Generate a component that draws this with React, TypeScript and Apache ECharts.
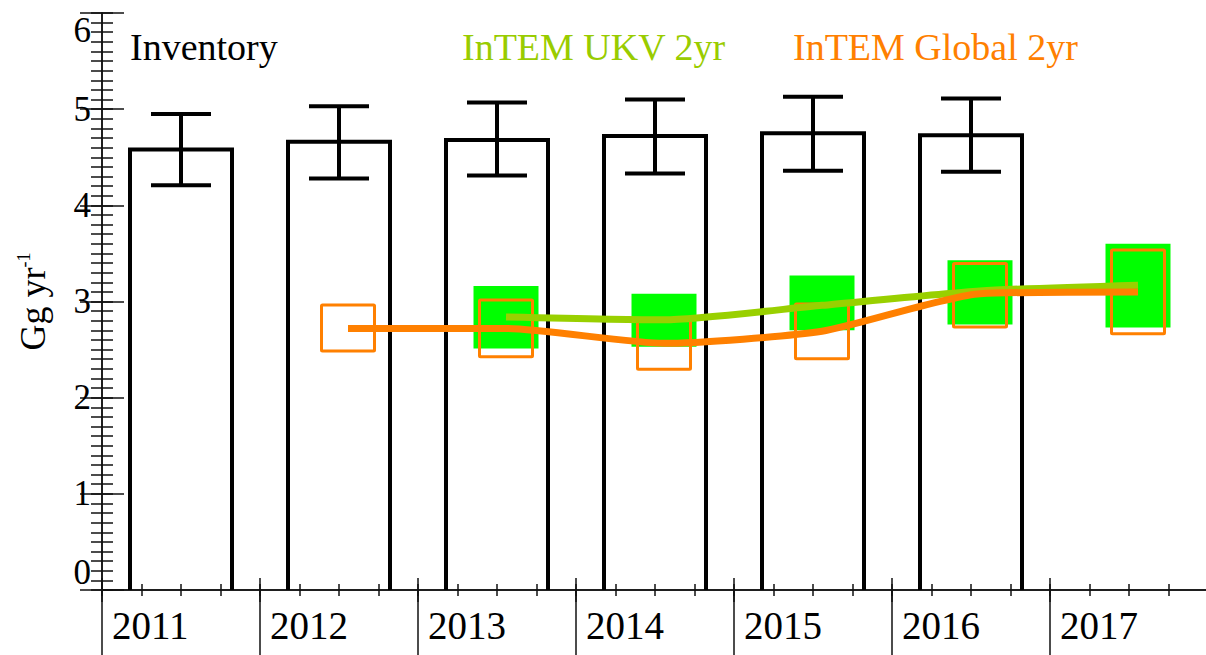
import React, { useEffect, useRef } from "react";
import * as echarts from "echarts";

const years = ["2011", "2012", "2013", "2014", "2015", "2016", "2017"];

// Inventory (2011-2016)
const inventory = [4.58, 4.66, 4.68, 4.72, 4.75, 4.73];
const inventoryLow = [4.21, 4.28, 4.31, 4.33, 4.36, 4.35];
const inventoryHigh = [4.95, 5.03, 5.07, 5.10, 5.13, 5.11];

// InTEM UKV 2yr (2013-2017)
const ukvYears = ["2013", "2014", "2015", "2016", "2017"];
const ukvLow = [2.51, 2.53, 2.70, 2.76, 2.73];
const ukvHigh = [3.16, 3.08, 3.27, 3.43, 3.60];
const ukvMean = [2.84, 2.81, 2.96, 3.11, 3.17];

// InTEM Global 2yr (2012-2017)
const globalYears = ["2012", "2013", "2014", "2015", "2016", "2017"];
const globalLow = [2.47, 2.41, 2.28, 2.39, 2.72, 2.65];
const globalHigh = [2.98, 3.03, 2.84, 2.99, 3.41, 3.55];
const globalMean = [2.72, 2.72, 2.565, 2.69, 3.08, 3.10];

const FONT = '"Liberation Serif", "Times New Roman", serif';
const GREEN_TEXT = "#99CC00";
const ORANGE = "#FF8000";
const BOX_SHIFT = 0.057;

const catX = (y: string) => years.indexOf(y) + 0.5;

export default function App() {
  const ref = useRef<HTMLDivElement>(null);
  useEffect(() => {
    if (!ref.current) return;
    const chart = echarts.init(ref.current, null, { renderer: "svg" });

    const invData = inventory.map((v, i) => [i + 0.5, v, inventoryLow[i], inventoryHigh[i]]);
    const ukvBox = ukvYears.map((y, i) => [catX(y) + BOX_SHIFT, ukvLow[i], ukvHigh[i]]);
    const glbBox = globalYears.map((y, i) => [catX(y) + BOX_SHIFT, globalLow[i], globalHigh[i]]);
    const ukvLine = ukvYears.map((y, i) => [catX(y) + BOX_SHIFT, ukvMean[i]]);
    const glbLine = globalYears.map((y, i) => [catX(y) + BOX_SHIFT, globalMean[i]]);

    const lineCol = "#111";
    const axisLine = { show: true, lineStyle: { color: lineCol, width: 1.5 } };
    const tickStyle = { color: lineCol, width: 1.5 };

    const xTickAxis = (pos: string, interval: number, len: number, withLine: boolean) => ({
      type: "value", gridIndex: 0, min: 0, max: 7, interval, position: pos,
      axisLine: withLine ? axisLine : { show: false },
      axisTick: { show: true, inside: true, length: len, lineStyle: tickStyle },
      splitLine: { show: false },
      axisLabel: { show: false },
    });
    const yTickAxis = (pos: string, interval: number, len: number, withLine: boolean) => ({
      type: "value", gridIndex: 0, min: 0, max: 6, interval, position: pos, offset: 0,
      axisLine: withLine ? axisLine : { show: false },
      axisTick: { show: true, inside: true, length: len, lineStyle: tickStyle },
      splitLine: { show: false },
      axisLabel: { show: false },
    });

    chart.setOption({
      animation: false,
      backgroundColor: "#fff",
      grid: [
        { left: 102, top: 13, width: 1106, height: 577, outerBoundsMode: "none", containLabel: false },
        { left: 102, top: 590, width: 1106, height: 65, outerBoundsMode: "none", containLabel: false },
      ],
      xAxis: [
        {
          type: "value", gridIndex: 0, min: 0, max: 7, interval: 1, position: "bottom",
          axisLine,
          axisTick: { show: true, inside: true, length: 12, lineStyle: tickStyle },
          splitLine: { show: false },
          axisLabel: {
            show: true,
            formatter: (v: number) => years[Math.round(v)] ?? "",
            align: "left", verticalAlign: "top", padding: [0, 0, 0, 10], margin: 16,
            fontSize: 39, fontFamily: FONT, color: "#000",
            showMinLabel: true, showMaxLabel: true,
          },
        },
        xTickAxis("top", 1, 12, true),
        {
          type: "value", gridIndex: 1, min: 0, max: 7, interval: 1,
          axisLine: { show: false }, axisTick: { show: false }, axisLabel: { show: false },
          splitLine: { show: true, showMaxLine: false, lineStyle: { color: lineCol, width: 1.5 } },
        },
        xTickAxis("bottom", 0.25, 6, false),
        xTickAxis("top", 0.25, 6, false),
      ],
      yAxis: [
        {
          type: "value", gridIndex: 0, min: 0, max: 6, interval: 1, position: "left",
          axisLine,
          axisTick: { show: true, inside: true, length: 22, lineStyle: tickStyle },
          splitLine: { show: false },
          axisLabel: {
            fontSize: 35, fontFamily: FONT, color: "#000", margin: 11,
            verticalAlignMinLabel: "bottom", verticalAlignMaxLabel: "top",
          },
          name: "{a|Gg yr}{b|-1}",
          nameLocation: "middle", nameRotate: 90, nameGap: 51,
          nameTextStyle: {
            color: "#000", fontFamily: FONT,
            rich: {
              a: { fontSize: 36, fontFamily: FONT, color: "#000" },
              b: { fontSize: 18, fontFamily: FONT, color: "#000", verticalAlign: "top" },
            },
          },
        },
        yTickAxis("right", 1, 22, true),
        {
          type: "value", gridIndex: 1, min: 0, max: 1, show: false,
        },
        yTickAxis("left", 0.1, 11, false),
        yTickAxis("right", 0.1, 11, false),
      ],
      graphic: [
        { type: "text", left: 130, top: 28, style: { text: "Inventory", font: `38px ${FONT}`, fill: "#000" } },
        { type: "text", left: 462, top: 28, style: { text: "InTEM UKV 2yr", font: `38px ${FONT}`, fill: GREEN_TEXT } },
        { type: "text", left: 793, top: 28, style: { text: "InTEM Global 2yr", font: `38px ${FONT}`, fill: ORANGE } },
      ],
      series: [
        {
          type: "custom", xAxisIndex: 0, yAxisIndex: 0, z: 2,
          data: invData,
          renderItem: (params: any, api: any) => {
            const x = api.value(0);
            const top = api.coord([x, api.value(1)]);
            const base = api.coord([x, 0]);
            const lo = api.coord([x, api.value(2)]);
            const hi = api.coord([x, api.value(3)]);
            const cx = top[0];
            const s = { stroke: "#000", lineWidth: 4, fill: "none" };
            return {
              type: "group",
              children: [
                {
                  type: "polyline",
                  shape: { points: [[cx - 51, base[1]], [cx - 51, top[1]], [cx + 51, top[1]], [cx + 51, base[1]]] },
                  style: { ...s },
                },
                { type: "line", shape: { x1: cx, y1: lo[1], x2: cx, y2: hi[1] }, style: { ...s } },
                { type: "line", shape: { x1: cx - 30, y1: lo[1], x2: cx + 30, y2: lo[1] }, style: { ...s } },
                { type: "line", shape: { x1: cx - 30, y1: hi[1], x2: cx + 30, y2: hi[1] }, style: { ...s } },
              ],
            };
          },
        },
        {
          type: "custom", xAxisIndex: 0, yAxisIndex: 0, z: 3,
          data: ukvBox,
          renderItem: (params: any, api: any) => {
            const lo = api.coord([api.value(0), api.value(1)]);
            const hi = api.coord([api.value(0), api.value(2)]);
            return {
              type: "rect",
              shape: { x: lo[0] - 32.5, y: hi[1], width: 65, height: lo[1] - hi[1] },
              style: { fill: "#00FF00", stroke: "none" },
            };
          },
        },
        {
          type: "custom", xAxisIndex: 0, yAxisIndex: 0, z: 4,
          data: glbBox,
          renderItem: (params: any, api: any) => {
            const lo = api.coord([api.value(0), api.value(1)]);
            const hi = api.coord([api.value(0), api.value(2)]);
            return {
              type: "rect",
              shape: { x: lo[0] - 26.5, y: hi[1] + 1.5, width: 53, height: lo[1] - hi[1] - 3, r: 1 },
              style: { fill: "none", stroke: ORANGE, lineWidth: 3 },
            };
          },
        },
        {
          type: "line", xAxisIndex: 0, yAxisIndex: 0, z: 5,
          data: ukvLine, showSymbol: false, smooth: 0.2,
          lineStyle: { color: "#99D000", width: 7 },
        },
        {
          type: "line", xAxisIndex: 0, yAxisIndex: 0, z: 6,
          data: glbLine, showSymbol: false, smooth: 0.2,
          lineStyle: { color: ORANGE, width: 7 },
        },
        {
          type: "line", xAxisIndex: 2, yAxisIndex: 2, data: [], showSymbol: false,
        },
      ],
    });
    return () => chart.dispose();
  }, []);
  return (
    <div
      ref={ref}
      style={{ position: "fixed", left: 0, top: 0, width: 1206, height: 655, background: "#fff" }}
    />
  );
}
